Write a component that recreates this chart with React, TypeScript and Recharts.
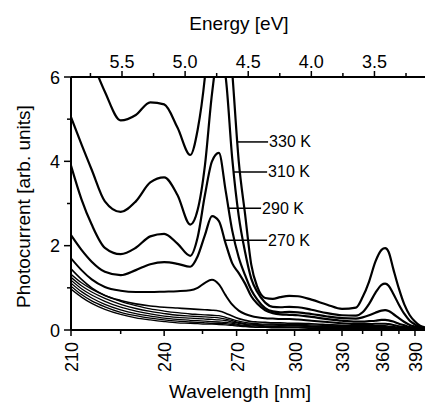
import React from 'react';
import { LineChart, Line, XAxis, YAxis, ReferenceLine, Label } from 'recharts';

// photon energy [eV] = HC / wavelength [nm]
const HC = 1239.84;

const wavelengths = [
    210, 213, 216, 220, 225, 230, 235, 240, 245, 250, 253, 256, 259, 262, 265, 268, 271, 274, 277, 280, 284,
    288, 292, 297, 302, 310, 320, 330, 340, 345, 350, 355, 360, 363, 366, 370, 375, 380, 385, 390, 395, 400,
];

const k330 = [7.6, 7.0, 6.4, 5.65, 4.97, 5.1, 5.4, 5.35, 4.8, 4.15, 4.75, 6.0, 8.0, 9.0, 8.0, 6.1, 4.0, 2.75, 1.55, 1.02, 0.76, 0.74, 0.78, 0.81, 0.8, 0.72, 0.6, 0.5, 0.53, 0.78, 1.15, 1.62, 1.9, 1.94, 1.85, 1.45, 0.98, 0.6, 0.35, 0.2, 0.1, 0.06];
const k310 = [5.05, 4.4, 3.8, 3.05, 2.8, 3.05, 3.5, 3.62, 3.2, 2.5, 2.85, 3.9, 5.6, 6.6, 6.0, 4.05, 2.7, 1.85, 1.22, 0.9, 0.65, 0.55, 0.54, 0.55, 0.54, 0.48, 0.4, 0.35, 0.34, 0.42, 0.62, 0.88, 1.07, 1.1, 1.05, 0.86, 0.6, 0.38, 0.22, 0.13, 0.07, 0.04];
const k290 = [3.9, 3.1, 2.5, 1.95, 1.8, 1.95, 2.22, 2.28, 2.05, 1.76, 2.2, 3.2, 4.0, 4.2, 3.3, 2.35, 1.72, 1.3, 0.95, 0.72, 0.52, 0.44, 0.42, 0.43, 0.42, 0.38, 0.32, 0.28, 0.27, 0.3, 0.35, 0.41, 0.46, 0.47, 0.45, 0.38, 0.28, 0.19, 0.12, 0.08, 0.05, 0.03];
const k270 = [2.25, 1.9, 1.62, 1.38, 1.3, 1.42, 1.56, 1.61, 1.57, 1.5, 1.75, 2.25, 2.7, 2.58, 2.05, 1.58, 1.35, 1.1, 0.8, 0.62, 0.47, 0.4, 0.37, 0.36, 0.35, 0.31, 0.26, 0.22, 0.2, 0.2, 0.21, 0.22, 0.24, 0.24, 0.23, 0.2, 0.15, 0.11, 0.07, 0.05, 0.03, 0.02];
const k250 = [1.7, 1.42, 1.2, 1.02, 0.93, 0.9, 0.9, 0.91, 0.92, 0.94, 1.0, 1.12, 1.19, 1.08, 0.82, 0.6, 0.46, 0.38, 0.33, 0.3, 0.28, 0.27, 0.26, 0.26, 0.25, 0.22, 0.19, 0.16, 0.14, 0.14, 0.14, 0.15, 0.15, 0.15, 0.14, 0.12, 0.09, 0.07, 0.05, 0.03, 0.02, 0.01];
const k230 = [1.45, 1.2, 1.0, 0.82, 0.7, 0.62, 0.57, 0.54, 0.52, 0.5, 0.49, 0.48, 0.47, 0.45, 0.4, 0.33, 0.27, 0.23, 0.2, 0.19, 0.18, 0.17, 0.17, 0.16, 0.16, 0.15, 0.13, 0.11, 0.1, 0.1, 0.1, 0.1, 0.1, 0.1, 0.09, 0.08, 0.06, 0.05, 0.04, 0.03, 0.02, 0.01];
const k210 = [1.32, 1.12, 0.97, 0.82, 0.68, 0.58, 0.5, 0.45, 0.41, 0.38, 0.37, 0.36, 0.35, 0.34, 0.3, 0.25, 0.21, 0.18, 0.16, 0.15, 0.14, 0.14, 0.13, 0.13, 0.13, 0.12, 0.11, 0.09, 0.08, 0.08, 0.08, 0.08, 0.08, 0.08, 0.07, 0.06, 0.05, 0.04, 0.03, 0.02, 0.02, 0.01];
const k190 = [1.25, 1.05, 0.9, 0.75, 0.61, 0.51, 0.44, 0.39, 0.35, 0.33, 0.32, 0.31, 0.3, 0.29, 0.26, 0.22, 0.18, 0.15, 0.14, 0.13, 0.12, 0.12, 0.11, 0.11, 0.11, 0.1, 0.09, 0.08, 0.07, 0.07, 0.07, 0.07, 0.07, 0.07, 0.06, 0.05, 0.04, 0.03, 0.03, 0.02, 0.01, 0.01];
const k170 = [1.18, 0.98, 0.83, 0.68, 0.54, 0.45, 0.38, 0.33, 0.3, 0.28, 0.27, 0.26, 0.25, 0.24, 0.22, 0.19, 0.16, 0.13, 0.12, 0.11, 0.1, 0.1, 0.09, 0.09, 0.09, 0.08, 0.08, 0.07, 0.06, 0.06, 0.06, 0.06, 0.06, 0.06, 0.05, 0.04, 0.03, 0.03, 0.02, 0.02, 0.01, 0.01];
const k150 = [1.11, 0.91, 0.76, 0.61, 0.48, 0.39, 0.33, 0.28, 0.25, 0.23, 0.22, 0.21, 0.2, 0.19, 0.18, 0.16, 0.13, 0.11, 0.1, 0.09, 0.08, 0.08, 0.08, 0.07, 0.07, 0.07, 0.06, 0.06, 0.05, 0.05, 0.05, 0.05, 0.05, 0.05, 0.04, 0.04, 0.03, 0.02, 0.02, 0.01, 0.01, 0.01];
const k130 = [1.04, 0.84, 0.69, 0.55, 0.42, 0.34, 0.28, 0.24, 0.21, 0.19, 0.18, 0.17, 0.16, 0.16, 0.15, 0.13, 0.11, 0.09, 0.08, 0.07, 0.07, 0.06, 0.06, 0.06, 0.06, 0.05, 0.05, 0.05, 0.04, 0.04, 0.04, 0.04, 0.04, 0.04, 0.04, 0.03, 0.03, 0.02, 0.02, 0.01, 0.01, 0.01];
const k110 = [0.97, 0.78, 0.63, 0.49, 0.37, 0.29, 0.24, 0.2, 0.17, 0.16, 0.15, 0.14, 0.14, 0.13, 0.12, 0.11, 0.09, 0.08, 0.07, 0.06, 0.06, 0.05, 0.05, 0.05, 0.05, 0.04, 0.04, 0.04, 0.03, 0.03, 0.03, 0.03, 0.03, 0.03, 0.03, 0.03, 0.02, 0.02, 0.01, 0.01, 0.01, 0.01];

const series = [
    { key: 'k330', values: k330, width: 2.2 },
    { key: 'k310', values: k310, width: 2.2 },
    { key: 'k290', values: k290, width: 2.2 },
    { key: 'k270', values: k270, width: 2.2 },
    { key: 'k250', values: k250, width: 2 },
    { key: 'k230', values: k230, width: 1.6 },
    { key: 'k210', values: k210, width: 1.3 },
    { key: 'k190', values: k190, width: 1.3 },
    { key: 'k170', values: k170, width: 1.3 },
    { key: 'k150', values: k150, width: 1.3 },
    { key: 'k130', values: k130, width: 1.3 },
    { key: 'k110', values: k110, width: 1.3 },
];

// bottom axis ticks (nm), top axis ticks (eV), left axis ticks
const nmTicks = [210, 225, 240, 255, 270, 285, 300, 315, 330, 345, 360, 375, 390];
const evTicks = [5.75, 5.5, 5.25, 5.0, 4.75, 4.5, 4.25, 4.0, 3.75, 3.5, 3.25];
const yTicks = [0, 1, 2, 3, 4, 5, 6];

// temperature tags: leader line from the curve to the text
const tagNames = ['330 K', '310 K', '290 K', '270 K'];
const tagFromNm = [270.2, 268.4, 266.5, 264.2];
const tagToNm = [285.5, 285.0, 281.9, 285.0];
const tagValues = [4.46, 3.75, 2.89, 2.13];

const data = wavelengths.map((w, i) => {
    const row: any = { e: HC / w };
    series.forEach((s) => {
        row[s.key] = s.values[i];
    });
    return row;
});

const FONT = '"Liberation Sans", Arial, Helvetica, sans-serif';

const NmTick = (props: any) => {
    const { x, y, payload } = props;
    const nm = Math.round(HC / payload.value);
    const major = nm % 30 === 0;
    const tx = x + 7;
    return (
        <g>
            <line x1={x} y1={y} x2={x} y2={y + (major ? 6 : 4)} stroke="#000" strokeWidth={1.5} />
            {major && (
                <text
                    x={tx}
                    y={y + 12}
                    transform={`rotate(-90 ${tx} ${y + 12})`}
                    textAnchor="end"
                    fontSize={18}
                    fontFamily={FONT}
                    fill="#000"
                >
                    {nm}
                </text>
            )}
        </g>
    );
};

const EvTick = (props: any) => {
    const { x, y, payload } = props;
    const major = Math.abs(payload.value * 2 - Math.round(payload.value * 2)) < 1e-6;
    return (
        <g>
            <line x1={x} y1={y} x2={x} y2={y - (major ? 6 : 4)} stroke="#000" strokeWidth={1.5} />
            {major && (
                <text x={x} y={y - 9.5} textAnchor="middle" fontSize={18} fontFamily={FONT} fill="#000">
                    {payload.value.toFixed(1)}
                </text>
            )}
        </g>
    );
};

const YTick = (props: any) => {
    const { x, y, payload } = props;
    const major = payload.value % 2 === 0;
    return (
        <g>
            <line x1={x} y1={y} x2={x - (major ? 7 : 4)} y2={y} stroke="#000" strokeWidth={1.5} />
            {major && (
                <text x={x - 11} y={y + 6.5} textAnchor="end" fontSize={18} fontFamily={FONT} fill="#000">
                    {payload.value}
                </text>
            )}
        </g>
    );
};

const TagText = (props: any) => {
    const { viewBox, value } = props;
    return (
        <text x={viewBox.x + viewBox.width + 1} y={viewBox.y + 5.5} fontSize={16} fontFamily={FONT} fill="#000">
            {value}
        </text>
    );
};

const energyDomain = [HC / 400, HC / 210];

const PhotocurrentChart: React.FC = () => {
    return (
        <div style={{ position: 'absolute', left: 0, top: 0, width: 425, height: 403, background: '#fff' }}>
            <LineChart width={425} height={403} data={data} margin={{ top: 0, right: 0, bottom: 0, left: 0 }}>
                <XAxis
                    xAxisId="bottom"
                    dataKey="e"
                    type="number"
                    domain={energyDomain}
                    allowDataOverflow
                    reversed
                    ticks={nmTicks.map((w) => HC / w)}
                    interval={0}
                    height={73}
                    tickSize={0}
                    tickMargin={0}
                    tickLine={false}
                    tick={<NmTick />}
                    axisLine={{ stroke: '#000', strokeWidth: 2 }}
                >
                    <Label
                        content={(p: any) => (
                            <text
                                x={p.viewBox.x + p.viewBox.width / 2 - 8}
                                y={p.viewBox.y + 68}
                                textAnchor="middle"
                                fontSize={19}
                                fontFamily={FONT}
                                fill="#000"
                            >
                                Wavelength [nm]
                            </text>
                        )}
                    />
                </XAxis>
                <XAxis
                    xAxisId="top"
                    orientation="top"
                    dataKey="e"
                    type="number"
                    domain={energyDomain}
                    allowDataOverflow
                    reversed
                    ticks={evTicks}
                    interval={0}
                    height={77}
                    tickSize={0}
                    tickMargin={0}
                    tickLine={false}
                    tick={<EvTick />}
                    axisLine={{ stroke: '#000', strokeWidth: 2 }}
                >
                    <Label
                        content={(p: any) => (
                            <text
                                x={p.viewBox.x + p.viewBox.width / 2 - 9}
                                y={p.viewBox.y + 29.5}
                                textAnchor="middle"
                                fontSize={19}
                                fontFamily={FONT}
                                fill="#000"
                            >
                                Energy [eV]
                            </text>
                        )}
                    />
                </XAxis>
                <YAxis
                    domain={[0, 6]}
                    allowDataOverflow
                    ticks={yTicks}
                    interval={0}
                    width={71}
                    tickSize={0}
                    tickMargin={0}
                    tickLine={false}
                    tick={<YTick />}
                    axisLine={{ stroke: '#000', strokeWidth: 2 }}
                >
                    <Label
                        content={(p: any) => {
                            const cx = 29.5;
                            const cy = p.viewBox.y + p.viewBox.height / 2 + 3;
                            return (
                                <text
                                    x={cx}
                                    y={cy}
                                    transform={`rotate(-90 ${cx} ${cy})`}
                                    textAnchor="middle"
                                    fontSize={19}
                                    fontFamily={FONT}
                                    fill="#000"
                                >
                                    Photocurrent [arb. units]
                                </text>
                            );
                        }}
                    />
                </YAxis>
                {series.map((s) => (
                    <Line
                        key={s.key}
                        xAxisId="bottom"
                        dataKey={s.key}
                        type="monotone"
                        stroke="#000"
                        strokeWidth={s.width}
                        dot={false}
                        activeDot={false}
                        isAnimationActive={false}
                    />
                ))}
                {tagNames.map((name, i) => (
                    <ReferenceLine
                        key={name}
                        xAxisId="bottom"
                        segment={[
                            { x: HC / tagFromNm[i], y: tagValues[i] },
                            { x: HC / tagToNm[i], y: tagValues[i] },
                        ]}
                        stroke="#000"
                        strokeWidth={1.5}
                        label={<TagText value={name} />}
                    />
                ))}
            </LineChart>
        </div>
    );
};

export default function App() {
    return <PhotocurrentChart />;
}
